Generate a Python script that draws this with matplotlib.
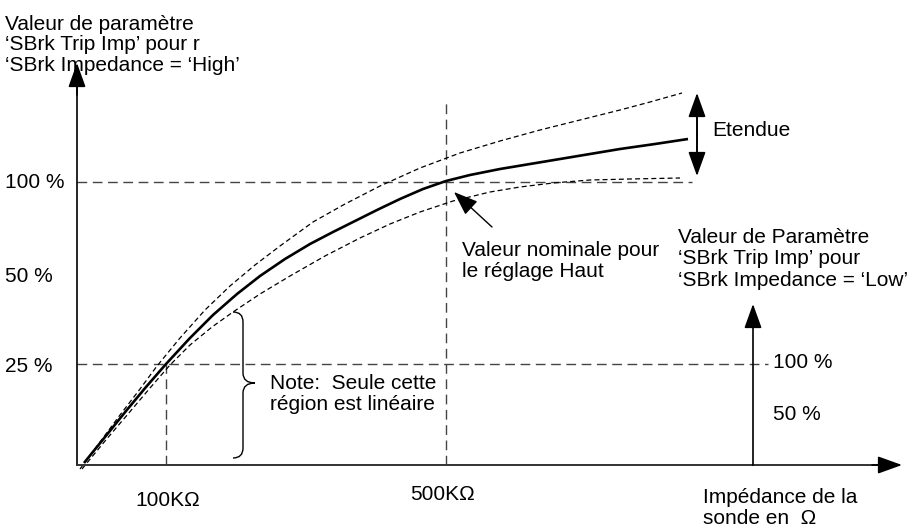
import numpy as np
import matplotlib.pyplot as plt
from matplotlib.path import Path
from matplotlib.patches import PathPatch

plt.rcParams['font.family'] = ['Liberation Sans', 'DejaVu Sans']

# diagram units: origin at the axis corner, x to the right, y upwards
nominal_x = [7, 28, 49, 69, 89, 113, 136, 160, 183, 208, 233, 256, 276,
             300, 323, 346, 369, 393, 423, 453, 483, 513, 543, 578, 611]
nominal_y = [2, 28, 54, 78, 101, 127, 150, 171, 189, 206, 221, 233, 243,
             255, 266, 276, 284, 290, 296, 301, 306, 311, 316, 321, 326]
upper_x = [3, 23, 43, 63, 80, 103, 128, 153, 178, 203, 236, 268, 303,
           343, 383, 423, 463, 503, 543, 573, 605]
upper_y = [-4, 23, 50, 76, 99, 127, 155, 179, 200, 219, 243, 261, 279,
           297, 312, 324, 335, 345, 355, 363, 372]
lower_x = [5, 28, 51, 73, 93, 113, 135, 156, 183, 213, 248, 283, 313,
           343, 376, 413, 443, 476, 513, 553, 603]
lower_y = [-4, 24, 51, 77, 100, 120, 138, 153, 171, 189, 209, 227, 241,
           253, 264, 273, 278, 282, 285, 286, 287]

level_100 = 283   # 100 % on the 'High' scale
level_25 = 101    # 25 % on the 'High' scale, 100 % on the 'Low' scale
x_100k = 89
x_500k = 369
x_low_axis = 676

left_ticks = [(283, '100 %'), (188, '50 %'), (98, '25 %')]
right_ticks = [(103, '100 %'), (50, '50 %')]
x_ticks = [(91, -35, '100KΩ'), (366, -30, '500KΩ')]

fig = plt.figure(figsize=(9.22, 5.30), dpi=100)
ax = fig.add_axes([0, 0, 1, 1])
ax.set_xlim(-77, 845)
ax.set_ylim(-65, 465)
ax.axis('off')

fs = 15
ref = dict(color='#444444', lw=1.0, dashes=(7, 4))

# reference levels
ax.plot([0, 615], [level_100, level_100], **ref)
ax.plot([0, 691], [level_25, level_25], **ref)
ax.plot([x_100k, x_100k], [0, level_25], **ref)
ax.plot([x_500k, x_500k], [0, 362], **ref)

# nominal curve and tolerance band
ax.plot(nominal_x, nominal_y, color='black', lw=1.9, solid_capstyle='butt',
        solid_joinstyle='round')
ax.plot(upper_x, upper_y, color='black', lw=0.9, dashes=(4, 2.5))
ax.plot(lower_x, lower_y, color='black', lw=0.9, dashes=(4, 2.5))

# axes with arrow heads
head = '-|>,head_length=0.75,head_width=0.27'
def arrow(p0, p1, style=head):
    ax.annotate('', xy=p1, xytext=p0,
                arrowprops=dict(arrowstyle=style, color='black', lw=1.2,
                                shrinkA=0, shrinkB=0, mutation_scale=20))

ax.plot([0, 0], [0, 380], color='black', lw=1.2)
arrow((0, 370), (0, 402))
ax.plot([0, 805], [0, 0], color='#333333', lw=1.4)
arrow((795, 0), (825, 0))
ax.plot([x_low_axis, x_low_axis], [0, 150], color='black', lw=1.2)
arrow((x_low_axis, 140), (x_low_axis, 161))

# range arrow
arrow((620, 330), (620, 372))
arrow((620, 330), (620, 289))
ax.plot([620, 620], [300, 360], color='black', lw=1.2)

# pointer to the nominal value
ax.annotate('', xy=(377, 273), xytext=(415, 238),
            arrowprops=dict(arrowstyle='-|>,head_length=0.75,head_width=0.28',
                            color='black', lw=1.0, shrinkA=0, shrinkB=0,
                            mutation_scale=20))

# curly brace around the linear region
xl, xm, xt = 156, 166, 178
vt, vb, vc = 153, 7, 82
r = 10
verts = [(xl, vt), (xm, vt), (xm, vt - r),
         (xm, vc + r), (xm, vc), (xt, vc),
         (xm, vc), (xm, vc - r),
         (xm, vb + r), (xm, vb), (xl, vb)]
codes = [Path.MOVETO, Path.CURVE3, Path.CURVE3,
         Path.LINETO, Path.CURVE3, Path.CURVE3,
         Path.CURVE3, Path.CURVE3,
         Path.LINETO, Path.CURVE3, Path.CURVE3]
ax.add_patch(PathPatch(Path(verts, codes), fill=False, lw=1.0, color='black'))

# labels
for v, s in left_ticks:
    ax.text(-72, v, s, fontsize=fs, va='center', ha='left')
for v, s in right_ticks:
    ax.text(696, v, s, fontsize=fs, va='center', ha='left')
for u, v, s in x_ticks:
    ax.text(u, v, s, fontsize=fs, va='center', ha='center')

ax.text(-72, 420, "Valeur de paramètre\n‘SBrk Trip Imp’ pour r\n‘SBrk Impedance = ‘High’",
        fontsize=fs, va='center', ha='left', linespacing=1.12)
ax.text(601, 206, "Valeur de Paramètre\n‘SBrk Trip Imp’ pour\n‘SBrk Impedance = ‘Low’",
        fontsize=fs, va='center', ha='left', linespacing=1.15)
ax.text(385, 204, "Valeur nominale pour\nle réglage Haut",
        fontsize=fs, va='center', ha='left', linespacing=1.12)
ax.text(193, 71, "Note:  Seule cette\nrégion est linéaire",
        fontsize=fs, va='center', ha='left', linespacing=1.12)
ax.text(635, 335, "Etendue", fontsize=fs, va='center', ha='left')
ax.text(626, -43, "Impédance de la\nsonde en  Ω",
        fontsize=fs, va='center', ha='left', linespacing=1.12)

fig.savefig('out.png', dpi=100)
